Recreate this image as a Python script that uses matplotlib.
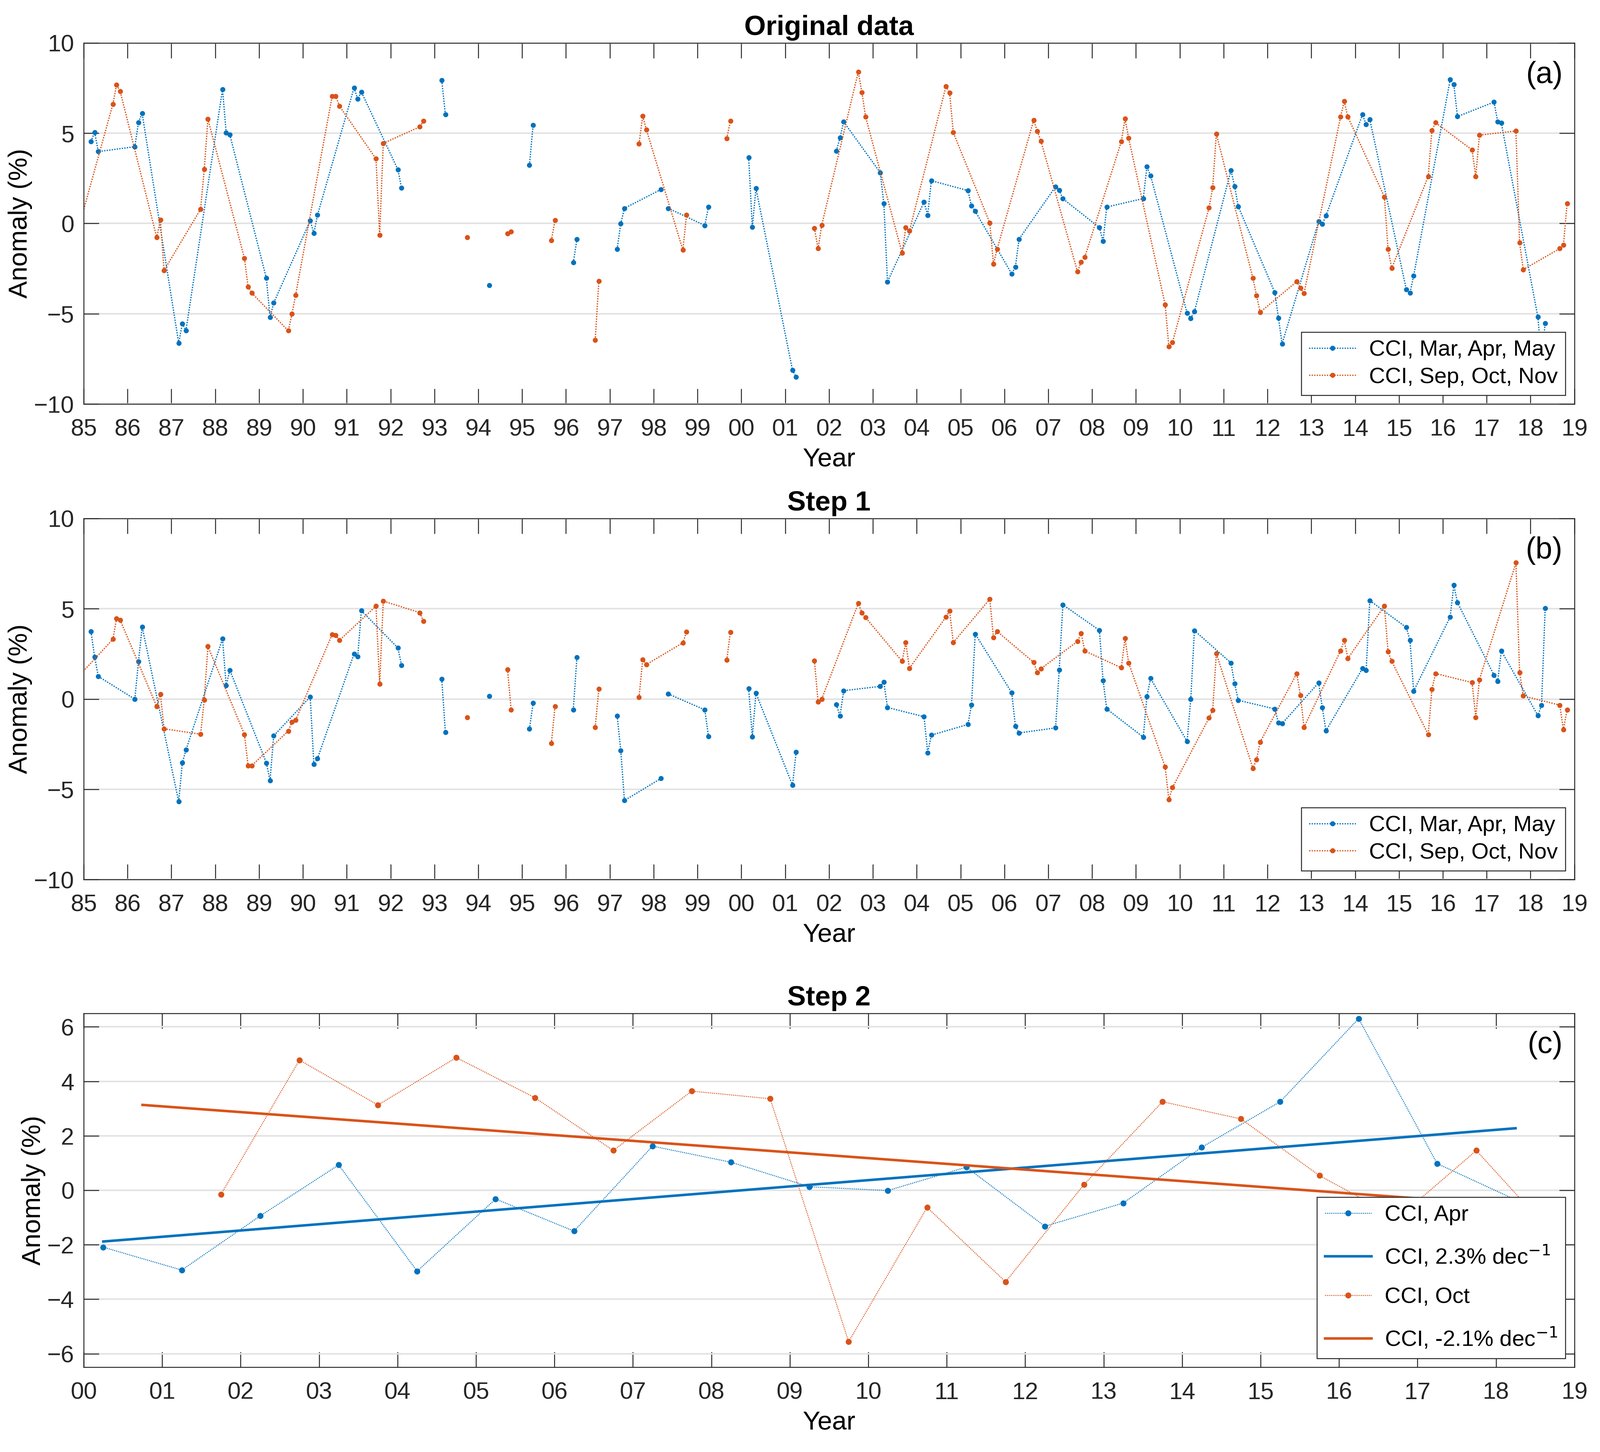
import numpy as np
import matplotlib
matplotlib.use('Agg')
import matplotlib.pyplot as plt

plt.rcParams['font.family'] = ['Liberation Sans', 'DejaVu Sans']

nan = np.nan
BLUE = '#0072BD'
ORANGE = '#D95319'
DARK = '#262626'

# one row per year, 1984 .. 2018
years = np.arange(1984, 2019)
mam_months = [3, 4, 5]
son_months = [9, 10, 11]

# Original data, anomaly (%) for Mar, Apr, May
orig_mam = [
    [nan, nan, nan], [4.54, 5.05, 3.98], [4.25, 5.60, 6.09], [-6.62, -5.55, -5.92],
    [7.43, 5.03, 4.91], [-3.03, -5.20, -4.40], [0.15, -0.54, 0.47], [7.51, 6.89, 7.28],
    [2.98, 1.96, nan], [7.92, 6.03, nan], [nan, -3.43, nan], [3.23, 5.44, nan],
    [-2.17, -0.88, nan], [-1.42, -0.01, 0.84], [1.88, nan, 0.84], [-0.11, 0.91, nan],
    [3.66, -0.21, 1.94], [-8.12, -8.50, nan], [4.01, 4.75, 5.63], [2.82, 1.10, -3.23],
    [1.19, 0.46, 2.37], [1.82, 0.97, 0.68], [-2.79, -2.41, -0.87], [2.04, 1.84, 1.37],
    [-0.23, -0.99, 0.91], [1.38, 3.14, 2.65], [-4.96, -5.25, -4.88], [2.94, 2.06, 0.94],
    [-3.82, -5.23, -6.66], [0.11, -0.03, 0.42], [6.03, 5.48, 5.76], [-3.66, -3.85, -2.90],
    [7.96, 7.69, 5.92], [6.72, 5.64, 5.56], [-5.18, -7.50, -5.52],
]

# Original data, anomaly (%) for Sep, Oct, Nov
orig_son = [
    [nan, nan, -0.70], [6.61, 7.68, 7.31], [-0.78, 0.20, -2.60], [0.79, 3.00, 5.78],
    [-1.93, -3.51, -3.85], [-5.94, -5.01, -3.97], [7.05, 7.05, 6.50], [3.58, -0.64, 4.44],
    [5.35, 5.67, nan], [nan, -0.76, nan], [-0.56, -0.46, nan], [-0.94, 0.17, nan],
    [-6.45, -3.19, nan], [4.41, 5.94, 5.20], [-1.47, 0.48, nan], [4.71, 5.67, nan],
    [nan, nan, nan], [-0.27, -1.39, -0.09], [8.39, 7.25, 5.91], [-1.64, -0.23, -0.42],
    [7.59, 7.23, 5.04], [0.03, -2.25, -1.42], [5.71, 5.11, 4.56], [-2.67, -2.13, -1.86],
    [4.54, 5.80, 4.72], [-4.50, -6.81, -6.58], [0.87, 1.98, 4.96], [-3.02, -3.99, -4.91],
    [-3.22, -3.58, -3.87], [5.90, 6.76, 5.90], [1.47, -1.43, -2.48], [2.61, 5.15, 5.58],
    [4.07, 2.59, 4.89], [5.12, -1.07, -2.55], [-1.39, -1.19, 1.11],
]

# Step 1, anomaly (%) for Mar, Apr, May
step1_mam = [
    [nan, nan, nan], [3.73, 2.32, 1.25], [-0.01, 2.07, 4.00], [-5.68, -3.53, -2.82],
    [3.33, 0.74, 1.60], [-3.54, -4.52, -2.04], [0.12, -3.62, -3.29], [2.50, 2.34, 4.89],
    [2.83, 1.87, nan], [1.10, -1.85, nan], [nan, 0.15, nan], [-1.66, -0.23, nan],
    [-0.59, 2.31, nan], [-0.93, -2.85, -5.62], [-4.40, nan, 0.28], [-0.60, -2.07, nan],
    [0.58, -2.09, 0.32], [-4.77, -2.93, nan], [-0.31, -0.94, 0.46], [0.70, 0.93, -0.47],
    [-0.98, -2.97, -2.00], [-1.41, -0.32, 3.60], [0.35, -1.50, -1.88], [-1.60, 1.62, 5.22],
    [3.80, 1.03, -0.55], [-2.11, 0.13, 1.14], [-2.35, -0.01, 3.79], [2.00, 0.85, -0.07],
    [-0.55, -1.32, -1.36], [0.90, -0.47, -1.76], [1.69, 1.58, 5.45], [3.96, 3.25, 0.44],
    [4.54, 6.30, 5.34], [1.32, 0.98, 2.66], [-0.91, -0.35, 5.02],
]

# Step 1, anomaly (%) for Sep, Oct, Nov
step1_son = [
    [nan, nan, 1.12], [3.31, 4.46, 4.36], [-0.42, 0.27, -1.65], [-1.95, -0.05, 2.91],
    [-1.96, -3.69, -3.69], [-1.77, -1.28, -1.17], [3.57, 3.53, 3.25], [5.14, 0.83, 5.42],
    [4.78, 4.30, nan], [nan, -1.02, nan], [1.64, -0.60, nan], [-2.46, -0.42, nan],
    [-1.56, 0.55, nan], [0.09, 2.19, 1.91], [3.11, 3.72, nan], [2.15, 3.70, nan],
    [nan, nan, nan], [2.12, -0.15, 0.00], [5.29, 4.78, 4.51], [2.09, 3.13, 1.70],
    [4.54, 4.87, 3.13], [5.53, 3.40, 3.74], [2.03, 1.46, 1.68], [3.19, 3.64, 2.66],
    [1.73, 3.36, 2.00], [-3.76, -5.56, -4.90], [-1.05, -0.63, 2.52], [-3.84, -3.36, -2.38],
    [1.41, 0.21, -1.56], [2.67, 3.25, 2.25], [5.15, 2.62, 2.09], [-1.97, 0.54, 1.41],
    [0.91, -1.02, 1.07], [7.54, 1.46, 0.17], [-0.34, -1.70, -0.59],
]

# Step 2 uses April and October of step 1 from 2000 on
step2_start = 2000


def month_times(months):
    return (years[:, None] + (np.array(months)[None, :] - 1) / 12.0).ravel()


def style_axes(ax, xlim, ylim, yticks, xticks):
    ax.set_xlim(xlim)
    ax.set_ylim(ylim)
    ax.set_yticks(yticks)
    ax.set_xticks(xticks)
    ax.set_xticklabels(['%02d' % (y % 100) for y in xticks])
    ax.tick_params(direction='in', length=9.6, width=0.6, top=True, right=True,
                   labelsize=15, colors=DARK)
    ax.tick_params(axis='x', pad=9)
    ax.tick_params(axis='y', pad=6)
    for s in ax.spines.values():
        s.set_linewidth(0.6)
        s.set_color(DARK)
    ax.yaxis.grid(True, color='#e3e3e3', lw=1.0)
    ax.set_axisbelow(True)
    ax.set_xlabel('Year', fontsize=16.5, labelpad=4)
    ax.set_ylabel('Anomaly (%)', fontsize=16.5, labelpad=1)


def add_legend(ax, spacing):
    leg = ax.legend(loc='lower right', fontsize=14, fancybox=False, framealpha=1,
                    edgecolor=DARK, borderaxespad=0.4, handlelength=2.1, handletextpad=0.6,
                    borderpad=0.35, labelspacing=spacing)
    leg.get_frame().set_linewidth(0.6)


def plot_seasons(ax, mam, son, title, tag):
    ax.plot(month_times(mam_months), np.asarray(mam).ravel(), ls=(0, (1, 1)), lw=0.8,
            color=BLUE, marker='o', ms=3.2, mew=0, label='CCI, Mar, Apr, May')
    ax.plot(month_times(son_months), np.asarray(son).ravel(), ls=(0, (1, 1)), lw=0.8,
            color=ORANGE, marker='o', ms=3.2, mew=0, label='CCI, Sep, Oct, Nov')
    style_axes(ax, (1985, 2019), (-10, 10), [-10, -5, 0, 5, 10], np.arange(1985, 2020))
    ax.set_title(title, fontsize=17.5, fontweight='bold', pad=5)
    ax.text(0.992, 0.95, tag, transform=ax.transAxes, ha='right', va='top', fontsize=19)
    add_legend(ax, 0.3)


fig = plt.figure(figsize=(4205 / 300, 3817 / 300), dpi=300)
ax_a = fig.add_axes([0.0523, 0.7217, 0.9317, 0.2488])
ax_b = fig.add_axes([0.0523, 0.3942, 0.9317, 0.2488])
ax_c = fig.add_axes([0.0523, 0.0583, 0.9317, 0.2439])

plot_seasons(ax_a, orig_mam, orig_son, 'Original data', '(a)')
plot_seasons(ax_b, step1_mam, step1_son, 'Step 1', '(b)')

# Step 2: April / October series with linear trends
sel = years >= step2_start
t_apr = years[sel] + 3 / 12.0
t_oct = years[sel] + 9 / 12.0
v_apr = np.asarray(step1_mam)[sel, 1]
v_oct = np.asarray(step1_son)[sel, 1]

for t, v, col, name in [(t_apr, v_apr, BLUE, 'Apr'), (t_oct, v_oct, ORANGE, 'Oct')]:
    ok = ~np.isnan(v)
    slope, icpt = np.polyfit(t[ok], v[ok], 1)
    ax_c.plot(t, v, ls=(0, (1, 1)), lw=0.6, color=col, marker='o', ms=3.8, mew=0,
              label='CCI, ' + name)
    ax_c.plot(t, slope * t + icpt, '-', lw=1.6, color=col,
              label='CCI, %.1f%% dec$^{-1}$' % (slope * 10))

style_axes(ax_c, (2000, 2019), (-6.5, 6.5), np.arange(-6, 7, 2), np.arange(2000, 2020))
ax_c.set_title('Step 2', fontsize=17.5, fontweight='bold', pad=5)
ax_c.text(0.992, 0.95, '(c)', transform=ax_c.transAxes, ha='right', va='top', fontsize=19)
add_legend(ax_c, 0.85)

fig.savefig('out.png', dpi=300)
